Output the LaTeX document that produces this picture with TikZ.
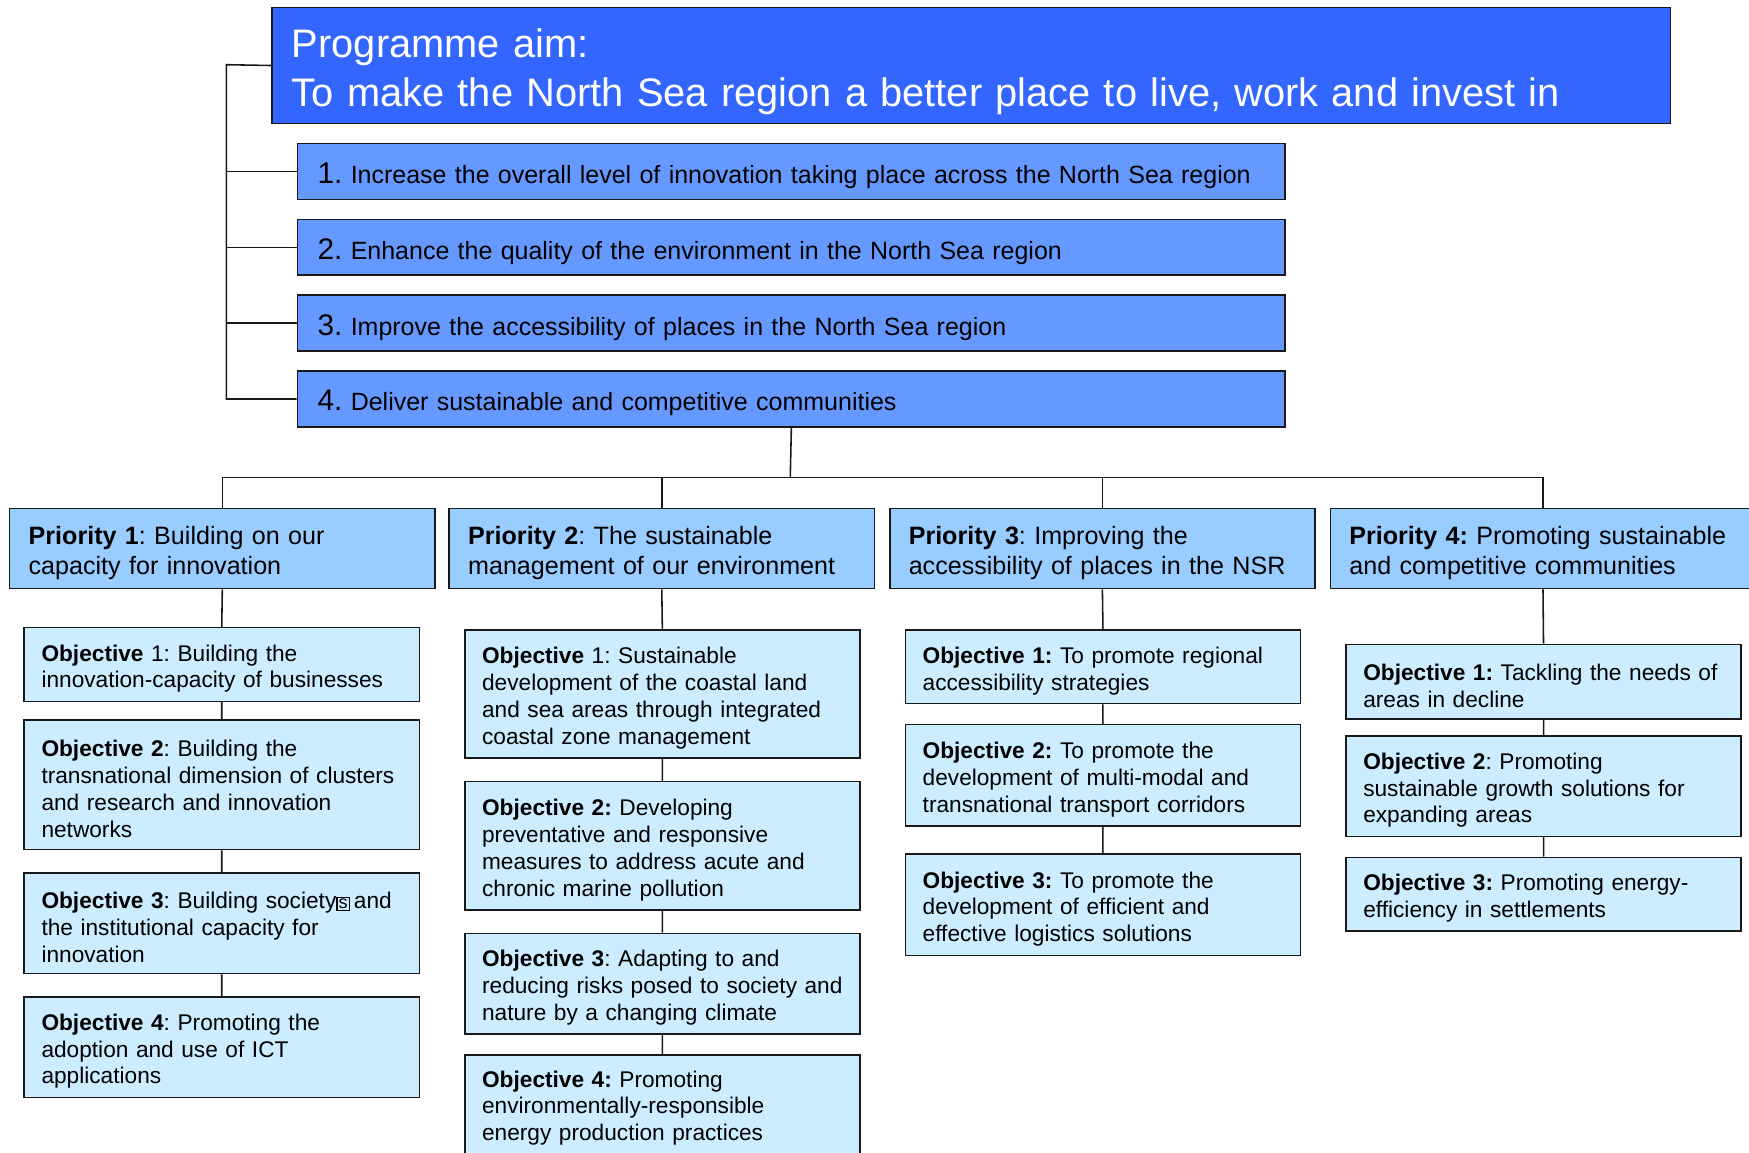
\documentclass[tikz,border=0pt]{standalone}
\usepackage{fontspec}
\setmainfont{Liberation Sans}
\frenchspacing
\definecolor{aimblue}{HTML}{3366FF}
\definecolor{goalblue}{HTML}{6699FF}
\definecolor{priorityblue}{HTML}{99CCFF}
\definecolor{objblue}{HTML}{CCECFF}
\newcommand{\boxglyph}{{\fboxsep=0.3pt\fboxrule=0.3pt\fbox{\fontsize{4.6pt}{4.6pt}\selectfont s}}}
\newcommand{\goalno}[1]{{\fontsize{7.6pt}{9pt}\selectfont #1}}
\tikzset{
  box/.style={draw=black!90, line width=0.4pt, anchor=north west, align=left, inner ysep=0pt},
  aimbox/.style={box, fill=aimblue, text=white, minimum width=12.53cm, minimum height=1.04cm,
    inner xsep=0.18cm, text width=12.17cm, font=\fontsize{10.15pt}{12.6pt}\selectfont,
    execute at begin node={\rule{0pt}{10.6pt}}},
  goalbox/.style={box, fill=goalblue, minimum width=8.85cm, minimum height=0.5cm,
    inner xsep=0.18cm, text width=8.49cm, font=\fontsize{6.37pt}{7.8pt}\selectfont,
    execute at begin node={\rule{0pt}{7.4pt}}},
  prioritybox/.style={box, fill=priorityblue, minimum width=3.81cm, minimum height=0.72cm,
    inner xsep=0.17cm, text width=3.47cm, font=\fontsize{6.4pt}{7.7pt}\selectfont,
    execute at begin node={\rule{0pt}{6.9pt}}},
  objbox/.style={box, fill=objblue, minimum width=3.54cm,
    inner xsep=0.155cm, text width=3.23cm, font=\fontsize{5.78pt}{6.85pt}\selectfont,
    execute at begin node={\rule{0pt}{6.3pt}}},
  link/.style={draw=black!90, line width=0.4pt}
}
\begin{document}
\begin{tikzpicture}[x=0.01cm, y=-0.01cm]
  \useasboundingbox (0, 0) rectangle (1568, 1033);
  \clip (0, 0) rectangle (1568, 1033);
  % programme aim and goals
  \node[aimbox] (aim) at(243, 6){Programme aim:\\To make the North Sea region a better place to live, work and invest in};
  \node[goalbox] (g1) at(266, 128){\goalno{1.} Increase the overall level of innovation taking place across the North Sea region};
  \node[goalbox] (g2) at(266, 196){\goalno{2.} Enhance the quality of the environment in the North Sea region};
  \node[goalbox] (g3) at(266, 264){\goalno{3.} Improve the accessibility of places in the North Sea region};
  \node[goalbox] (g4) at(266, 332){\goalno{4.} Deliver sustainable and competitive communities};
  % priorities
  \node[prioritybox] (p1) at(8, 455){\textbf{Priority 1}: Building on our\\capacity for innovation};
  \node[prioritybox] (p2) at(402, 455){\textbf{Priority 2}: The sustainable\\management of our environment};
  \node[prioritybox] (p3) at(797, 455){\textbf{Priority 3}: Improving the\\accessibility of places in the NSR};
  \node[prioritybox] (p4) at(1192, 455){\textbf{Priority 4:} Promoting sustainable\\and competitive communities};
  % objectives of priority 1
  \node[objbox, minimum height=0.66cm] (o11) at(21, 562){\textbf{Objective} 1: Building the\\innovation-capacity of businesses};
  \node[objbox, minimum height=1.16cm] (o12) at(21, 645){\textbf{Objective 2}: Building the\\transnational dimension of clusters\\and research and innovation\\networks};
  \node[objbox, minimum height=0.90cm] (o13) at(21, 782){\textbf{Objective 3}: Building society\boxglyph\,and\\the institutional capacity for\\innovation};
  \node[objbox, minimum height=0.90cm] (o14) at(21, 893){\textbf{Objective 4}: Promoting the\\adoption and use of ICT\\applications};
  % objectives of priority 2
  \node[objbox, minimum height=1.15cm] (o21) at(416, 564){\textbf{Objective} 1: Sustainable\\development of the coastal land\\and sea areas through integrated\\coastal zone management};
  \node[objbox, minimum height=1.15cm] (o22) at(416, 700){\textbf{Objective 2:} Developing\\preventative and responsive\\measures to address acute and\\chronic marine pollution};
  \node[objbox, minimum height=0.90cm] (o23) at(416, 836){\textbf{Objective 3}: Adapting to and\\reducing risks posed to society and\\nature by a changing climate};
  \node[objbox, minimum height=1.15cm] (o24) at(416, 945){\textbf{Objective 4:} Promoting\\environmentally-responsible\\energy production practices\\\strut};
  % objectives of priority 3
  \node[objbox, minimum height=0.66cm] (o31) at(811, 564){\textbf{Objective 1:} To promote regional\\accessibility strategies};
  \node[objbox, minimum height=0.91cm] (o32) at(811, 649){\textbf{Objective 2:} To promote the\\development of multi-modal and\\transnational transport corridors};
  \node[objbox, minimum height=0.91cm] (o33) at(811, 765){\textbf{Objective 3:} To promote the\\development of efficient and\\effective logistics solutions};
  % objectives of priority 4
  \node[objbox, minimum height=0.67cm] (o41) at(1206, 577){\textbf{Objective 1:} Tackling the needs of\\areas in decline};
  \node[objbox, minimum height=0.90cm] (o42) at(1206, 659){\textbf{Objective 2}: Promoting\\sustainable growth solutions for\\expanding areas};
  \node[objbox, minimum height=0.66cm] (o43) at(1206, 768){\textbf{Objective 3:} Promoting energy-\\efficiency in settlements};
  % connectors
  \coordinate (spine) at(203, 58);
  \coordinate (bar) at(708.5, 428);
  \draw[link] (aim.west) -- (spine) |- (g4.west);
  \foreach \g in {1,2,3}
    \draw[link] (g\g.west) -- (g\g.west -| spine);
  \draw[link] (g4.south) -- (bar);
  \draw[link] (bar -| p1.north) -- (bar -| p4.north);
  \foreach \p in {1,...,4}
    \draw[link] (bar -| p\p.north) -- (p\p.north);
  \draw[link] (p1.south) -- (o11.north) (o11.south) -- (o12.north) (o12.south) -- (o13.north) (o13.south) -- (o14.north);
  \draw[link] (p2.south) -- (o21.north) (o21.south) -- (o22.north) (o22.south) -- (o23.north) (o23.south) -- (o24.north);
  \draw[link] (p3.south) -- (o31.north) (o31.south) -- (o32.north) (o32.south) -- (o33.north);
  \draw[link] (p4.south) -- (o41.north) (o41.south) -- (o42.north) (o42.south) -- (o43.north);
\end{tikzpicture}
\end{document}
